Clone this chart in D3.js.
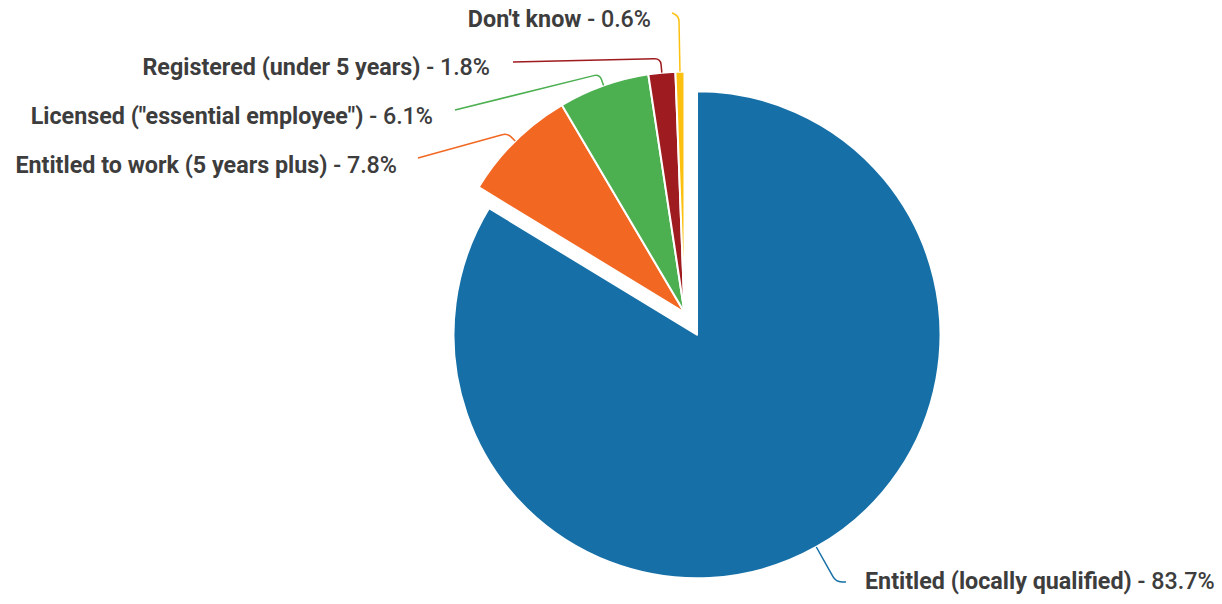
<!DOCTYPE html>
<html>
<head>
<meta charset="utf-8">
<script src="https://cdn.jsdelivr.net/npm/d3@7"></script>
<style>
  html, body { margin: 0; padding: 0; background: #fff; }
  svg { display: block; }
  .lbl { font-family: Roboto, "Noto Sans", sans-serif; font-size: 23.3px; fill: #3d3d3d; }
  .lbl .name { font-weight: 700; }
  .lbl .val { font-weight: 500; }
</style>
</head>
<body>
<svg id="chart" width="1222" height="604"></svg>
<script>
// Work status categories and their shares (%)
const categories = [
  "Entitled (locally qualified)",
  "Entitled to work (5 years plus)",
  "Licensed (\"essential employee\")",
  "Registered (under 5 years)",
  "Don't know"
];
const shares = [83.7, 7.8, 6.1, 1.8, 0.6];
const colors = ["#1670a7", "#f26822", "#4caf50", "#9e1b1f", "#fcc010"];

// Layout: pie centre, radius, and which slice is pulled out (and slightly enlarged)
const cx = 684.5, cy = 312.5, radius = 241;
const explodeIndex = 0, explodeDist = 25.5, explodeRadius = 243.5;

// Label placement: text anchor point, leader elbow distance past the rim, leader end
const labelLayout = [
  { x: 865, y: 589, anchor: "start", elbow: 40, end: [846, 582] },
  { x: 397, y: 173, anchor: "end",   elbow: 11, end: [418, 158] },
  { x: 433, y: 124, anchor: "end",   elbow: 12, end: [455, 110] },
  { x: 490, y: 75,  anchor: "end",   elbow: 14, end: [513, 62] },
  { x: 651, y: 27,  anchor: "end",   elbow: 56, end: [672, 13] }
];

const data = categories.map((c, i) => ({ name: c, value: shares[i], color: colors[i] }));

const svg = d3.select("#chart");
const pie = d3.pie().sort(null).value(d => d.value).startAngle(0).endAngle(2 * Math.PI);
const arcs = pie(data);
const rOf = i => (i === explodeIndex ? explodeRadius : radius);
const arc = d3.arc().innerRadius(0).outerRadius(a => rOf(a.index));

const g = svg.append("g").attr("transform", `translate(${cx},${cy})`);

function offsetOf(i, a) {
  if (i !== explodeIndex) return [0, 0];
  const m = (a.startAngle + a.endAngle) / 2;
  return [Math.sin(m) * explodeDist, -Math.cos(m) * explodeDist];
}

// Slices
g.selectAll("path.slice")
  .data(arcs)
  .join("path")
  .attr("class", "slice")
  .attr("transform", (a, i) => { const o = offsetOf(i, a); return `translate(${o[0]},${o[1]})`; })
  .attr("d", arc)
  .attr("fill", a => a.data.color)
  .attr("stroke", "#fff")
  .attr("stroke-width", 2)
  .attr("stroke-linejoin", "round");

// Leader lines: radial stub from the rim, rounded elbow, then straight run to the label
function leaderPath(a, i) {
  const m = (a.startAngle + a.endAngle) / 2;
  const o = offsetOf(i, a);
  const L = labelLayout[i];
  const r = rOf(i);
  const ux = Math.sin(m), uy = -Math.cos(m);
  const p0 = [cx + o[0] + ux * r, cy + o[1] + uy * r];
  const p1 = [cx + o[0] + ux * (r + L.elbow), cy + o[1] + uy * (r + L.elbow)];
  const p2 = L.end;
  const rr = Math.min(6, L.elbow * 0.5);
  const d01 = Math.hypot(p1[0] - p0[0], p1[1] - p0[1]);
  const d12 = Math.hypot(p2[0] - p1[0], p2[1] - p1[1]);
  const a1 = [p1[0] - (p1[0] - p0[0]) / d01 * rr, p1[1] - (p1[1] - p0[1]) / d01 * rr];
  const b1 = [p1[0] + (p2[0] - p1[0]) / d12 * rr, p1[1] + (p2[1] - p1[1]) / d12 * rr];
  const p = d3.path();
  p.moveTo(p0[0], p0[1]);
  p.lineTo(a1[0], a1[1]);
  p.quadraticCurveTo(p1[0], p1[1], b1[0], b1[1]);
  p.lineTo(p2[0], p2[1]);
  return p.toString();
}

svg.selectAll("path.leader")
  .data(arcs)
  .join("path")
  .attr("class", "leader")
  .attr("d", leaderPath)
  .attr("fill", "none")
  .attr("stroke", a => a.data.color)
  .attr("stroke-width", 1.5);

// Labels
const lbl = svg.selectAll("text.lbl")
  .data(arcs)
  .join("text")
  .attr("class", "lbl")
  .attr("x", (a, i) => labelLayout[i].x)
  .attr("y", (a, i) => labelLayout[i].y)
  .attr("text-anchor", (a, i) => labelLayout[i].anchor);
lbl.append("tspan").attr("class", "name").text(a => a.data.name);
lbl.append("tspan").attr("class", "val").text(a => ` - ${a.data.value.toFixed(1)}%`);
</script>
</body>
</html>
